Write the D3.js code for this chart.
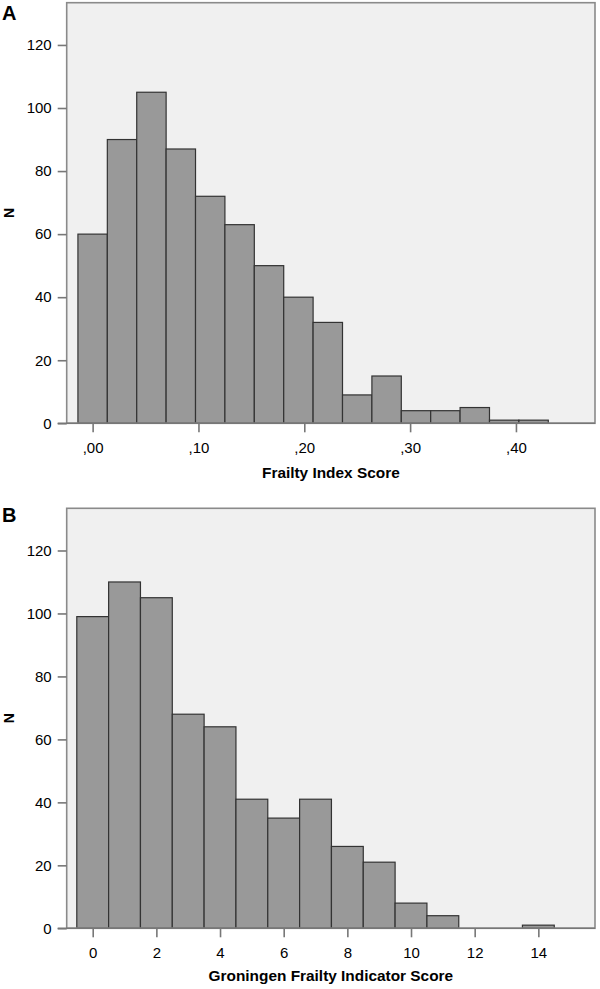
<!DOCTYPE html>
<html>
<head>
<meta charset="utf-8">
<script src="https://cdn.jsdelivr.net/npm/d3@7"></script>
<style>
  html, body { margin: 0; padding: 0; background: #ffffff; }
  svg { display: block; }
  text { font-family: "Liberation Sans", Arial, sans-serif; fill: #000; }
</style>
</head>
<body>
<svg id="chart" width="600" height="989"></svg>
<script>
// ---- Data ----
// Panel A: Frailty Index Score, bins of width 1/36 centred on k/36
const binCentersA = [0/36, 1/36, 2/36, 3/36, 4/36, 5/36, 6/36, 7/36, 8/36, 9/36, 10/36, 11/36, 12/36, 13/36, 14/36, 15/36];
const binWidthA = 1/36;
const countsA = [60, 90, 105, 87, 72, 63, 50, 40, 32, 9, 15, 4, 4, 5, 1, 1];
const xTicksA = [0, 0.1, 0.2, 0.3, 0.4];
const xTickLabelsA = [",00", ",10", ",20", ",30", ",40"];

// Panel B: Groningen Frailty Indicator Score, integer bins
const binCentersB = [0, 1, 2, 3, 4, 5, 6, 7, 8, 9, 10, 11, 12, 13, 14];
const binWidthB = 1;
const countsB = [99, 110, 105, 68, 64, 41, 35, 41, 26, 21, 8, 4, 0, 0, 1];
const xTicksB = [0, 2, 4, 6, 8, 10, 12, 14];
const xTickLabelsB = ["0", "2", "4", "6", "8", "10", "12", "14"];

const yTicks = [0, 20, 40, 60, 80, 100, 120];
const yTickLabels = ["0", "20", "40", "60", "80", "100", "120"];

const panels = [
  { letter: "A", title: "Frailty Index Score", centers: binCentersA, width: binWidthA, counts: countsA,
    xDomain: [-0.0245, 0.4747], xTicks: xTicksA, xLabels: xTickLabelsA,
    top: 2.7, bottom: 423.3, letterY: 20, titleY: 478 },
  { letter: "B", title: "Groningen Frailty Indicator Score", centers: binCentersB, width: binWidthB, counts: countsB,
    xDomain: [-0.817, 15.78], xTicks: xTicksB, xLabels: xTickLabelsB,
    top: 508.3, bottom: 928.3, letterY: 522, titleY: 981 }
];

const left = 66.7, right = 595;
const svg = d3.select("#chart");

panels.forEach(p => {
  const x = d3.scaleLinear().domain(p.xDomain).range([left, right]);
  const y = d3.scaleLinear().domain([0, 133.4]).range([p.bottom, p.top]);
  const g = svg.append("g");

  // plot background
  g.append("rect")
    .attr("x", left).attr("y", p.top)
    .attr("width", right - left).attr("height", p.bottom - p.top)
    .attr("fill", "#f0f0f0");

  // bars
  g.selectAll("rect.bar")
    .data(p.centers.map((c, i) => ({ c, n: p.counts[i] })).filter(d => d.n > 0))
    .enter().append("rect")
    .attr("class", "bar")
    .attr("x", d => x(d.c - p.width / 2))
    .attr("width", d => x(d.c + p.width / 2) - x(d.c - p.width / 2))
    .attr("y", d => y(d.n))
    .attr("height", d => y(0) - y(d.n))
    .attr("fill", "#999999")
    .attr("stroke", "#333333")
    .attr("stroke-width", 1.2);

  // frame
  g.append("rect")
    .attr("x", left).attr("y", p.top)
    .attr("width", right - left).attr("height", p.bottom - p.top)
    .attr("fill", "none")
    .attr("stroke", "#8a8a8a")
    .attr("stroke-width", 1.6);

  // y axis
  const yAxis = d3.axisLeft(y).tickValues(yTicks)
    .tickFormat((d, i) => yTickLabels[i]).tickSize(9).tickPadding(6);
  const ya = g.append("g").attr("transform", `translate(${left},0)`).call(yAxis);
  ya.select(".domain").remove();
  ya.selectAll(".tick line").attr("stroke", "#777").attr("stroke-width", 1.6);
  ya.selectAll(".tick text").attr("font-size", 15).attr("font-family", "Liberation Sans, Arial, sans-serif").attr("fill", "#000");

  // x axis
  const xAxis = d3.axisBottom(x).tickValues(p.xTicks)
    .tickFormat((d, i) => p.xLabels[i]).tickSize(9).tickPadding(10);
  const xa = g.append("g").attr("transform", `translate(0,${p.bottom})`).call(xAxis);
  xa.select(".domain").remove();
  xa.selectAll(".tick line").attr("stroke", "#777").attr("stroke-width", 1.6);
  xa.selectAll(".tick text").attr("font-size", 15).attr("font-family", "Liberation Sans, Arial, sans-serif").attr("fill", "#000");

  // bottom axis line extending to the left tick
  g.append("line")
    .attr("x1", left - 9).attr("x2", right)
    .attr("y1", p.bottom).attr("y2", p.bottom)
    .attr("stroke", "#777").attr("stroke-width", 1.6);

  // axis titles
  g.append("text")
    .attr("x", (left + right) / 2).attr("y", p.titleY)
    .attr("text-anchor", "middle")
    .attr("font-weight", "bold").attr("font-size", 15.4)
    .text(p.title);

  g.append("text")
    .attr("transform", `translate(13.5,${(p.top + p.bottom) / 2}) rotate(-90)`)
    .attr("text-anchor", "middle")
    .attr("font-weight", "bold").attr("font-size", 14)
    .text("N");

  // panel letter
  g.append("text")
    .attr("x", 2).attr("y", p.letterY)
    .attr("font-weight", "bold").attr("font-size", 20)
    .text(p.letter);
});
</script>
</body>
</html>
